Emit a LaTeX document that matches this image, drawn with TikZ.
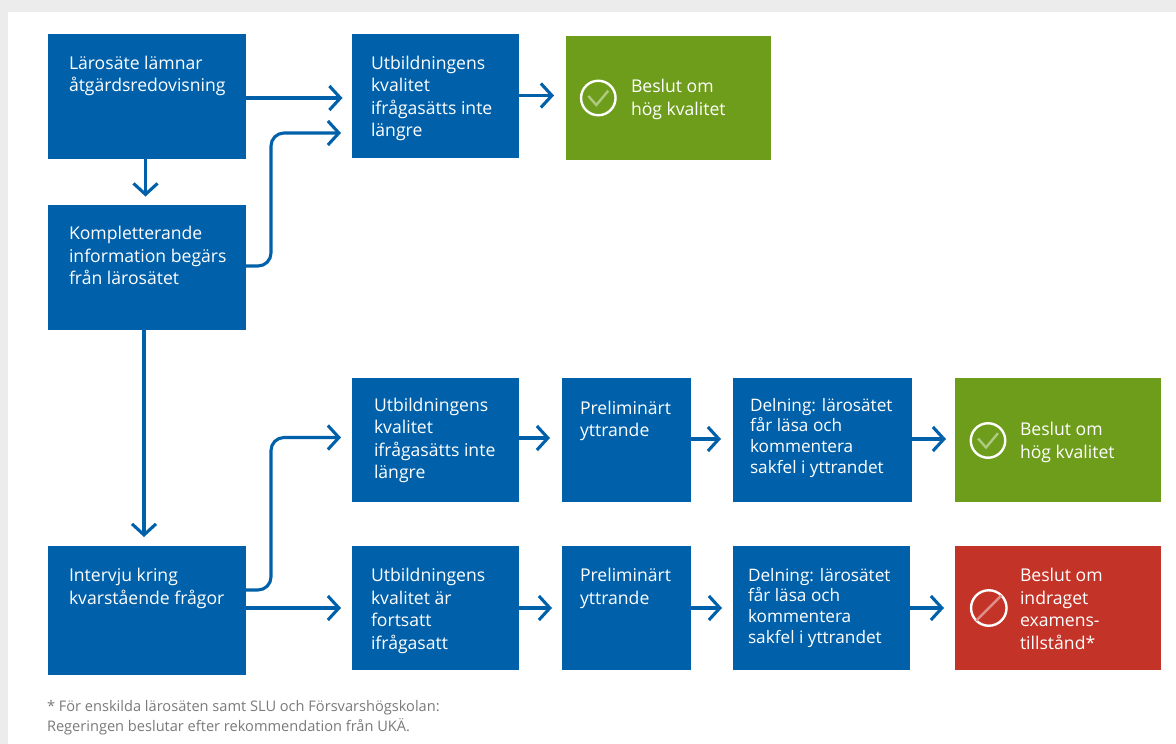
\documentclass[tikz,border=0pt]{standalone}
\usepackage{fontspec}
\setmainfont{Open Sans}
\usetikzlibrary{arrows.meta,calc}
\definecolor{ukablue}{HTML}{0061AA}
\definecolor{ukagreen}{HTML}{6E9D1C}
\definecolor{ukared}{HTML}{C33327}
\definecolor{ukabg}{HTML}{ECECEC}
\definecolor{ukagrey}{HTML}{7A7A7A}
\tikzset{
  boxnode/.style={inner sep=0pt,outer sep=0pt,draw=none},
  txt/.style={anchor=north west,inner sep=0pt,outer sep=0pt,align=left,text=white,font=\fontsize{17.6}{22.5}\selectfont},
  txtsmall/.style={txt,font=\fontsize{17.2}{20.8}\selectfont},
  foot/.style={anchor=north west,inner sep=0pt,outer sep=0pt,align=left,text=ukagrey,font=\fontsize{14.6}{19.4}\selectfont},
  arr/.style={draw=ukablue,line width=3.1pt,rounded corners=13pt,-{Straight Barb[length=11pt,width=24pt,line width=3.1pt]}},
  ring/.style={circle,draw=white,line width=2.4pt,inner sep=0pt,outer sep=0pt},
}
\newcommand{\fs}{\rule{0pt}{14pt}}
% name, x1, y1, x2, y2, colour
\newcommand{\ubox}[6]{\path (#2,#3) rectangle (#4,#5) coordinate[pos=.5] (#1c);
  \node[boxnode,fill=#6,minimum width={(#4-#2)*1pt},minimum height={(#5-#3)*1pt}] (#1) at (#1c) {};}
\begin{document}
\begin{tikzpicture}[x=1pt,y=-1pt]
\useasboundingbox (0,0) rectangle (1176,744);
\fill[ukabg] (0,0) rectangle (1176,744);
\fill[white] (8,12) rectangle (1176,744);

\ubox{a}{48}{34}{246}{159}{ukablue}
\ubox{b}{48}{205}{246}{330}{ukablue}
\ubox{c}{48}{546}{246}{674.5}{ukablue}
\ubox{d}{352}{34}{519}{157.5}{ukablue}
\ubox{e}{566}{36}{771}{160}{ukagreen}
\ubox{f}{352}{378}{519}{501.5}{ukablue}
\ubox{g}{562}{378}{690.5}{501.5}{ukablue}
\ubox{h}{733}{378}{911.5}{501.5}{ukablue}
\ubox{i}{955}{378}{1160.5}{502}{ukagreen}
\ubox{j}{352}{546}{519}{670}{ukablue}
\ubox{k}{562}{546}{690.5}{670}{ukablue}
\ubox{l}{733}{546}{910}{670}{ukablue}
\ubox{m}{955}{546}{1160.5}{670}{ukared}

\node[txt] (ta) at (69,55) {\fs Lärosäte lämnar\\åtgärdsredovisning};
\node[txt] (tb) at (69,225.5) {\fs Kompletterande\\information begärs\\från lärosätet};
\node[txt] (tc) at (69,567.7) {\fs Intervju kring\\kvarstående frågor};
\node[txt] (td) at (371,55) {\fs Utbildningens\\kvalitet\\ifrågasätts inte\\längre};
\node[txt] (te) at (631,78.7) {\fs Beslut om\\hög kvalitet};
\node[txt] (tf) at (374,397) {\fs Utbildningens\\kvalitet\\ifrågasätts inte\\längre};
\node[txt] (tg) at (580,400) {\fs Preliminärt\\yttrande};
\node[txtsmall] (th) at (750,397) {\fs Delning: lärosätet\\får läsa och\\kommentera\\sakfel i yttrandet};
\node[txt] (ti) at (1020,421.7) {\fs Beslut om\\hög kvalitet};
\node[txt] (tj) at (371,567.7) {\fs Utbildningens\\kvalitet är\\fortsatt\\ifrågasatt};
\node[txt] (tk) at (580,567.7) {\fs Preliminärt\\yttrande};
\node[txtsmall] (tl) at (748,567) {\fs Delning: lärosätet\\får läsa och\\kommentera\\sakfel i yttrandet};
\node[txt] (tm) at (1020,567.7) {\fs Beslut om\\indraget\\examens-\\tillstånd*};
\node[foot] (tn) at (47,697.7) {\fs * För enskilda lärosäten samt SLU och Försvarshögskolan:\\Regeringen beslutar efter rekommendation från UKÄ.};

% icons
\node[ring,minimum size=34.5pt] (ie) at (598.3,98) {};
\draw[white!45!ukagreen,line width=2.4pt] ([shift={(-10,-2)}]ie.center) -- ([shift={(-2,7)}]ie.center) -- ([shift={(10,-7.3)}]ie.center);
\node[ring,minimum size=34.5pt] (ii) at (988,440.5) {};
\draw[white!45!ukagreen,line width=2.4pt] ([shift={(-10,-2)}]ii.center) -- ([shift={(-2,7)}]ii.center) -- ([shift={(10,-7.3)}]ii.center);
\node[ring,minimum size=35.5pt] (im) at (988.8,608) {};
\draw[white!45!ukared,line width=2.4pt] (im.225) -- (im.45);

% connectors
\draw[arr,shorten >=9.5pt] (a.east |- 0,98) -- (d.west |- 0,98);
\draw[arr,shorten >=8.5pt] (a.south -| 145.5,0) -- (b.north -| 145.5,0);
\draw[arr] (b.east |- 0,266) -- (271,266) -- (271,133) -- ([shift={(-11,0)}]d.west |- 0,133);
\draw[arr,shorten >=9pt] (b.south -| 144,0) -- (c.north -| 144,0);
\draw[arr] (c.east |- 0,590) -- (271,590) -- (271,437.5) -- ([shift={(-11,0)}]f.west |- 0,437.5);
\draw[arr,shorten >=11pt] (c.east |- 0,608) -- (j.west |- 0,608);
\draw[arr,shorten >=12pt] (d.east |- 0,95.5) -- (e.west |- 0,95.5);
\draw[arr,shorten >=12pt] (f.east |- 0,438) -- (g.west |- 0,438);
\draw[arr,shorten >=12pt] (g.east |- 0,439) -- (h.west |- 0,439);
\draw[arr,shorten >=9pt] (h.east |- 0,439) -- (i.west |- 0,439);
\draw[arr,shorten >=10pt] (j.east |- 0,608) -- (k.west |- 0,608);
\draw[arr,shorten >=11pt] (k.east |- 0,608) -- (l.west |- 0,608);
\draw[arr,shorten >=11pt] (l.east |- 0,608) -- (m.west |- 0,608);
\end{tikzpicture}
\end{document}
